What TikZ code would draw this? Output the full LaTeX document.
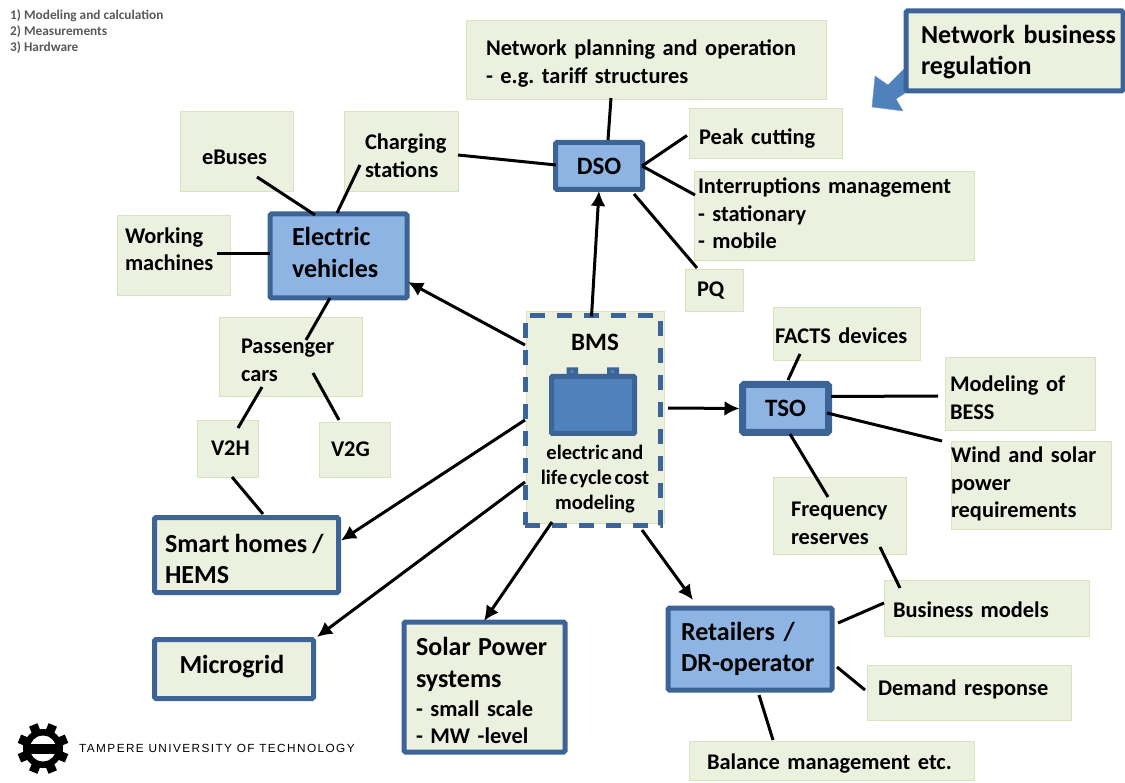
\documentclass[tikz,border=0pt]{standalone}
\usepackage{fontspec}
\setmainfont{Carlito}
\newfontfamily\logofont[LetterSpace=12]{Liberation Sans}
\usepackage{xcolor}
\definecolor{boxgreen}{HTML}{EBF0DF}
\definecolor{boxedge}{HTML}{D7E4BD}
\definecolor{nodeblue}{HTML}{8EB4E3}
\definecolor{edgeblue}{HTML}{3D6497}
\definecolor{batteryblue}{HTML}{4F81BD}
\definecolor{noteblack}{HTML}{595959}
\usetikzlibrary{arrows.meta}
\tikzset{
	gbox/.style n args={3}{rectangle, fill=boxgreen, draw=boxedge, line width=0.7pt, minimum height=#2pt, text width=#1pt-2*#3pt, inner xsep=#3pt, inner ysep=0pt, align=left, font=\fontsize{22.4}{27.5}\selectfont\bfseries},
	bbox/.style n args={3}{gbox={#1}{#2}{#3}, fill=nodeblue, draw=edgeblue, line width=5pt, rounded corners=1.5pt, font=\fontsize{26}{31}\selectfont\bfseries},
	gframe/.style n args={3}{bbox={#1}{#2}{#3}, fill=boxgreen},
	drop/.style={execute at begin node={\rule{0pt}{#1pt}}},
	rise/.style={execute at end node={\rule[-#1pt]{0pt}{0pt}}},
	link/.style={line width=3pt, black},
	flow/.style={link, -{Latex[length=15pt,width=15pt]}},
}
\begin{document}
\frenchspacing
\begin{tikzpicture}[x=1pt, y=-1pt]
	\useasboundingbox (0,0) rectangle (1125,783);
	%%% Notes
	\node[anchor=north west, inner sep=0pt, align=left, text=noteblack, font=\fontsize{13.3}{16}\selectfont\bfseries] (notes) at (10,9) {1) Modeling and calculation\\2) Measurements\\3) Hardware};
	%%% Callout arrow
	\fill[batteryblue, draw=batteryblue!80!white] (905,68) -- (888,85) -- (875,76) -- (872,107) -- (903,111) -- (896,99) -- (916,86) -- cycle;
	%%% Green boxes
	\node[gbox={360}{79}{20}, drop=23.5] (net) at (646,59.5) {Network planning and operation\\- e.g. tariff structures};
	\node[gbox={153}{50}{10}, drop=26.5] (peak) at (765.5,133) {Peak cutting};
	\node[gbox={280}{89}{4}, rise=4] (intr) at (834,215.5) {Interruptions management\\- stationary\\- mobile};
	\node[gbox={58}{42}{12}, drop=16.5] (pq) at (714,290) {\mbox{PQ}};
	\node[gbox={114}{80}{21}, drop=25.5] (charge) at (401,151) {\mbox{Charging}\\\mbox{stations}};
	\node[gbox={113}{80}{22}, drop=26.5] (ebus) at (236.5,151) {\mbox{eBuses}};
	\node[gbox={113}{80}{8}, rise=12] (work) at (173.5,255) {\mbox{Working}\\\mbox{machines}};
	\node[gbox={143}{79}{22}, drop=22.5] (pass) at (290.5,356.5) {\mbox{Passenger}\\\mbox{cars}};
	\node[gbox={61}{57}{14}] (vh) at (227.5,448.5) {\mbox{V2H}};
	\node[gbox={71}{55}{12}] (vg) at (354.5,449.5) {\mbox{V2G}};
	\node[gbox={147}{53}{2}, drop=20.5] (facts) at (846.5,333.5) {FACTS devices};
	\node[gbox={150}{73}{5}, drop=24.5] (model) at (1020,393.5) {Modeling of\\BESS};
	\node[gbox={160}{88}{0}, rise=5] (wind) at (1031,485) {Wind and solar\\power\\requirements};
	\node[gbox={133}{77}{18}, drop=30] (freq) at (839.5,515.5) {\mbox{Frequency}\\[1pt]\mbox{reserves}};
	\node[gbox={205}{56}{9}, drop=18.5] (bmodel) at (986.5,608) {Business models};
	\node[gbox={204}{55}{11}, rise=9] (demand) at (969,692.5) {Demand response};
	\node[gbox={285}{39}{18}, drop=22.5] (balance) at (831.5,760.5) {Balance management etc.};
	%%% Blue boxes
	\node[bbox={87}{47}{4}, align=center, font=\fontsize{25}{30}\selectfont\bfseries] (dso) at (599,166) {DSO};
	\node[bbox={137}{84}{22}, font=\fontsize{26}{32}\selectfont\bfseries, rise=8] (ev) at (338.5,256) {\mbox{Electric}\\\mbox{vehicles}};
	\node[bbox={86}{48}{4}, align=center, line width=7pt, font=\fontsize{25}{30}\selectfont\bfseries] (tso) at (785.5,408.5) {TSO};
	\node[bbox={164}{82}{13}] (retail) at (750,649) {Retailers /\\DR-operator};
	\node[gframe={184}{75}{10.5}, drop=27] (smart) at (246.5,555) {\spaceskip=.2em Smart homes /\\HEMS};
	\node[gframe={159}{59}{25}, rise=9.5] (micro) at (234,669) {Microgrid};
	\node[gframe={161}{130}{12}, drop=25, font=\fontsize{22.4}{27}\selectfont\bfseries] (solar) at (484.5,687) {{\fontsize{26}{32}\selectfont Solar Power\\systems\par}\vspace{2pt}- small scale\\- MW -level};
	\node[gframe={217}{80}{15}, drop=21] (reg) at (1014.5,51) {\mbox{Network business}\\regulation};
	%%% BMS
	\node[gbox={138}{212}{4}, align=center, drop=28.5, font=\fontsize{20.5}{24.7}\selectfont\bfseries] (bms) at (595,417.5) {\spaceskip=.13em {\fontsize{25}{28}\selectfont BMS\par}\vspace{84pt}electric and\\life cycle cost\\modeling};
	\node[rectangle, draw=edgeblue, line width=5pt, dash pattern=on 15pt off 12pt, minimum width=135pt, minimum height=209pt, inner sep=0pt] (bmsframe) at (592.5,420.5) {};
	% battery
	\draw[edgeblue, line width=5pt, fill=batteryblue, rounded corners=1pt] (551.5,376.5) rectangle (634.5,433.5);
	\fill[edgeblue] (566.5,367.5) rectangle (578,375) (607,367.5) rectangle (619,375);
	\fill[batteryblue] (570.5,370) rectangle (573.5,373) (611,370) rectangle (614,373);
	%%% Links
	\draw[link] ([shift={(-35,38.5)}]net.center) -- ([shift={(9,-26)}]dso.center);
	\draw[link] ([shift={(57,4)}]charge.center) -- ([shift={(-43,-1)}]dso.center);
	\draw[link] ([shift={(43,0)}]dso.center) -- ([shift={(-78.5,2.5)}]peak.center);
	\draw[link] ([shift={(43,0)}]dso.center) -- ([shift={(-139,-20.5)}]intr.center);
	\draw[link] ([shift={(35,28)}]dso.center) -- ([shift={(-17,-22)}]pq.center);
	\draw[flow] ([shift={(-1,-104)}]bmsframe.center) -- ([shift={(0,25)}]dso.center);
	\draw[flow] ([shift={(-67.5,-75.5)}]bmsframe.center) -- ([shift={(69.5,26)}]ev.center);
	\draw[link] ([shift={(20.5,26)}]ebus.center) -- ([shift={(-23.5,-41)}]ev.center);
	\draw[link] ([shift={(-41,14)}]charge.center) -- ([shift={(-1.5,-43)}]ev.center);
	\draw[link] ([shift={(43.5,-1)}]work.center) -- ([shift={(-68.5,-2)}]ev.center);
	\draw[link] ([shift={(-8.5,42)}]ev.center) -- ([shift={(15.5,-16.5)}]pass.center);
	\draw[link] ([shift={(-28.5,30.5)}]pass.center) -- ([shift={(10.5,-20.5)}]vh.center);
	\draw[link] ([shift={(22.5,16.5)}]pass.center) -- ([shift={(-15.5,-29.5)}]vg.center);
	\draw[link] ([shift={(4.5,28.5)}]vh.center) -- ([shift={(16.5,-41)}]smart.center);
	\draw[flow] ([shift={(-67.5,-0.5)}]bmsframe.center) -- ([shift={(94.5,-14.5)}]smart.center);
	\draw[flow] ([shift={(-67.5,61.5)}]bmsframe.center) -- ([shift={(83,-32)}]micro.center);
	\draw[flow] ([shift={(-40.5,101.5)}]bmsframe.center) -- ([shift={(-0.5,-66)}]solar.center);
	\draw[flow] ([shift={(49.5,109.5)}]bmsframe.center) -- ([shift={(-57,-49)}]retail.center);
	\draw[flow] ([shift={(75.5,-12.5)}]bmsframe.center) -- ([shift={(-46,0)}]tso.center);
	\draw[link] ([shift={(2.5,-28.5)}]tso.center) -- ([shift={(-46.5,20.5)}]facts.center);
	\draw[link] ([shift={(45.5,-12)}]tso.center) -- ([shift={(-82,2.5)}]model.center);
	\draw[link] ([shift={(41.5,4.5)}]tso.center) -- ([shift={(-89,-44)}]wind.center);
	\draw[link] ([shift={(4.5,25.5)}]tso.center) -- ([shift={(-11.5,-18.5)}]freq.center);
	\draw[link] ([shift={(40.5,31.5)}]freq.center) -- ([shift={(-86.5,-20)}]bmodel.center);
	\draw[link] ([shift={(88,-26)}]retail.center) -- ([shift={(-102.5,-5)}]bmodel.center);
	\draw[link] ([shift={(87,18)}]retail.center) -- ([shift={(-104,-2.5)}]demand.center);
	\draw[link] ([shift={(9,46)}]retail.center) -- ([shift={(-58.5,-20.5)}]balance.center);
	%%% Logo
	\foreach \a in {0,45,...,315}
		\fill[black, rotate around={\a+22.5:(43,748.5)}] (38.5,723) rectangle (47.5,735);
	\fill[black] (43,748.5) circle (19.5);
	\fill[white] (43,748.5) circle (13);
	\fill[black] (23,743.5) rectangle (63,753.5);
	\node[anchor=west, inner sep=0pt, font=\logofont\fontsize{11.8}{13}\selectfont] (tut) at (79,748) {TAMPERE UNIVERSITY OF TECHNOLOGY};
\end{tikzpicture}
\end{document}
